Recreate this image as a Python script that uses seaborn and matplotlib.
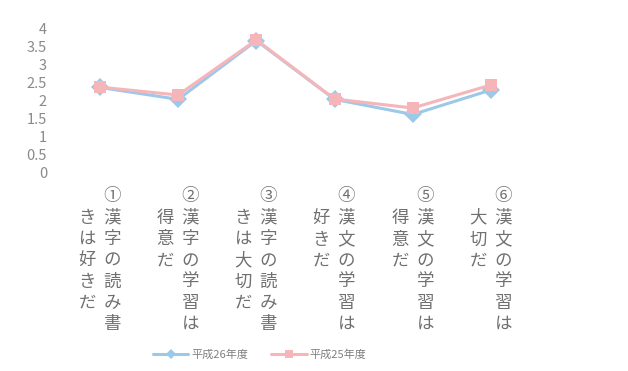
import matplotlib
matplotlib.use("Agg")
import matplotlib.pyplot as plt
import seaborn as sns
import pandas as pd

# Data
right_cols = ["①漢字の読み書", "②漢字の学習は", "③漢字の読み書", "④漢文の学習は", "⑤漢文の学習は", "⑥漢文の学習は"]
left_cols = ["きは好きだ", "得意だ", "きは大切だ", "好きだ", "得意だ", "大切だ"]
h26 = [2.35, 2.02, 3.65, 2.02, 1.60, 2.28]
h25 = [2.36, 2.14, 3.67, 2.03, 1.78, 2.42]
series_names = ["平成26年度", "平成25年度"]
yticks = [0, 0.5, 1, 1.5, 2, 2.5, 3, 3.5, 4]


def vertical_label(right, left):
    rows = []
    n = len(right)
    for i in range(n):
        r = right[i]
        # left column starts one row below the circled number
        j = i - 1
        l = left[j] if 0 <= j < len(left) else "\u3000"
        rows.append(l + "  " + r)
    return "\n".join(rows)


labels = [vertical_label(r, l) for r, l in zip(right_cols, left_cols)]

df = pd.DataFrame({
    "x": list(range(len(h26))) * 2,
    "y": h26 + h25,
    "series": [series_names[0]] * len(h26) + [series_names[1]] * len(h25),
})

sns.set_style("white")
plt.rcParams["font.family"] = ["Noto Sans CJK JP", "DejaVu Sans"]

fig = plt.figure(figsize=(6.28, 3.71), dpi=100)
ax = fig.add_axes([0.097, 0.536, 0.747, 0.3885])

palette = {series_names[0]: "#9cc8ea", series_names[1]: "#f5b5b9"}
markers = {series_names[0]: "D", series_names[1]: "s"}
sns.lineplot(data=df, x="x", y="y", hue="series", style="series",
             hue_order=series_names, style_order=series_names,
             palette=palette, markers=markers, dashes=False,
             markersize=9, linewidth=2.2, markeredgewidth=0, ax=ax)

ax.set_xlim(-0.5, len(h26) - 0.5)
ax.set_ylim(0, 4)
ax.set_yticks(yticks)
ax.set_yticklabels([f"{v:g}" for v in yticks], color="#8a8a8a", fontsize=10.5)
ax.set_xticks(range(len(labels)))
ax.set_xticklabels(labels, color="#707070", fontsize=12.5, linespacing=1.23,
                   ha="center", va="top", multialignment="center")
ax.tick_params(axis="x", length=0, pad=11)
ax.tick_params(axis="y", length=0, pad=10)
ax.set_xlabel("")
ax.set_ylabel("")
for s in ax.spines.values():
    s.set_visible(False)

leg = ax.legend(loc="center", bbox_to_anchor=(0.424, -1.265), ncol=2, frameon=False,
                fontsize=8, handlelength=3.2, columnspacing=2.0, handletextpad=0.3,
                markerscale=0.6)
for t in leg.get_texts():
    t.set_color("#808080")

fig.savefig("out.png", dpi=100, facecolor="white")
